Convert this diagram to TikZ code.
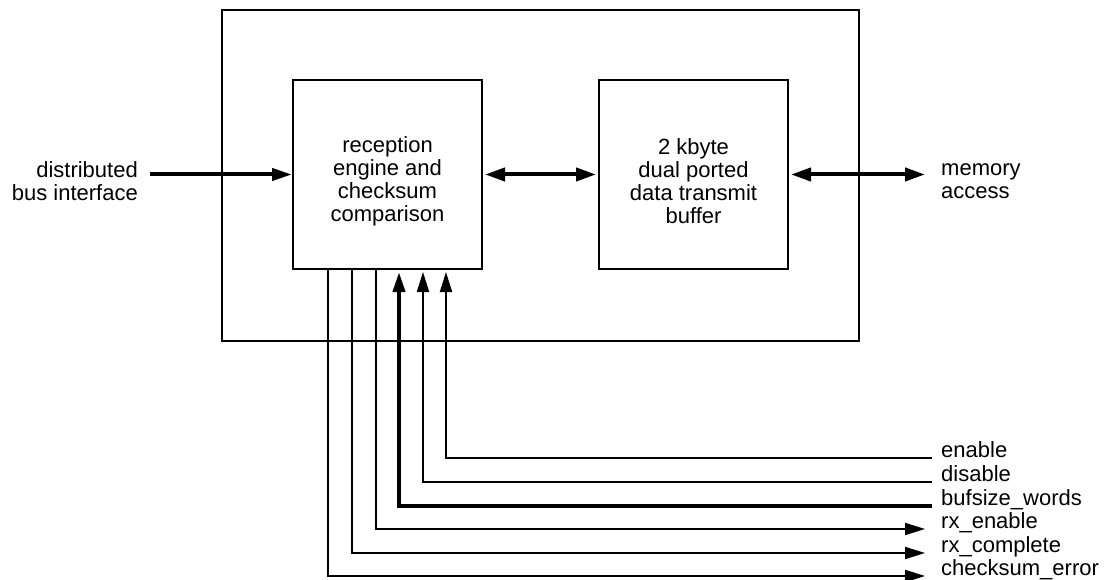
\documentclass[tikz,border=0pt]{standalone}
\usepackage{fontspec}
\setmainfont{Liberation Sans}
\usetikzlibrary{arrows.meta,calc}
\begin{document}
\begin{tikzpicture}[x=1pt,y=-1pt,
  box/.style={draw,line width=2pt,minimum width=189pt,minimum height=189pt,inner sep=0pt},
  txt/.style={font=\fontsize{22}{23}\selectfont,inner sep=0pt},
  thinw/.style={line width=2pt},
  thickw/.style={line width=4pt},
  tip/.style={-{Triangle[length=20pt,width=12pt]}},
  dtip/.style={{Triangle[length=20pt,width=13pt]}-{Triangle[length=20pt,width=13pt]}},
]
\useasboundingbox (0,0) rectangle (1106,580);
% blocks
\node[draw,line width=2pt,minimum width=637pt,minimum height=331pt,inner sep=0pt] (outer) at (540.5,175.5) {};
\node[box] (rx) at (387.5,174.5) {};
\node[box] (buf) at (693.5,174.5) {};
\node[txt,align=center] (rxt) at ($(rx)+(0,6.5)$) {reception\\engine and\\checksum\\comparison};
\node[txt,align=center] (buft) at ($(buf)+(0,6.5)$) {2 kbyte\\dual ported\\data transmit\\buffer};
% side labels
\node[txt,align=right,anchor=east] (dbi) at (138,181) {distributed\\bus interface};
\node[txt,align=left,anchor=west] (mem) at (941,181) {memory\\access};
\coordinate (dbiS) at (150,174.5);
\coordinate (memE) at (925,174.5);
\draw[thickw,tip] (dbiS) -- (rx.west);
\draw[thickw,dtip,shorten <=2pt,shorten >=2pt] (rx.east) -- (buf.west);
\draw[thickw,dtip,shorten <=2pt] (buf.east) -- (memE);
% bottom signal labels
\node[txt,anchor=base west] (len) at (941,457) {enable};
\node[txt,anchor=base west] (ldis) at (941,481) {disable};
\node[txt,anchor=base west] (lbuf) at (941,505) {bufsize\_words};
\node[txt,anchor=base west] (lrxe) at (941,528) {rx\_enable};
\node[txt,anchor=base west] (lrxc) at (941,552) {rx\_complete};
\node[txt,anchor=base west] (lcse) at (941,575) {checksum\_error};
\coordinate (enS) at (932,458);
\coordinate (disS) at (932,482);
\coordinate (bufS) at (932,506);
\coordinate (rxeE) at (925,529);
\coordinate (rxcE) at (925,553);
\coordinate (cseE) at (925,576);
% signal lines
\draw[thinw,tip,shorten >=2pt] (enS) -| ([xshift=58.5pt]rx.south);
\draw[thinw,tip,shorten >=2pt] (disS) -| ([xshift=35.5pt]rx.south);
\draw[thickw,tip,shorten >=2pt] (bufS) -| ([xshift=11.5pt]rx.south);
\draw[thinw,tip] ([xshift=-11.5pt]rx.south) |- (rxeE);
\draw[thinw,tip] ([xshift=-35.5pt]rx.south) |- (rxcE);
\draw[thinw,tip] ([xshift=-59.5pt]rx.south) |- (cseE);
\end{tikzpicture}
\end{document}
